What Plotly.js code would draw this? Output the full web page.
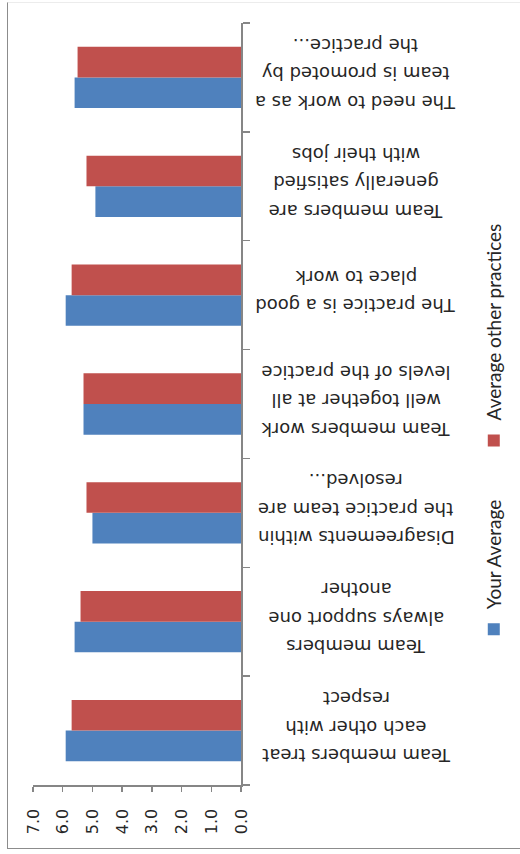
<!DOCTYPE html>
<html>
<head>
<meta charset="utf-8">
<script src="https://cdn.plot.ly/plotly-3.0.1.min.js"></script>
<style>
  html, body { margin: 0; padding: 0; background: #ffffff; overflow: hidden; }
  #wrap {
    position: absolute; left: 0; top: 0;
    width: 854px; height: 520px;
    transform-origin: 0 0;
    transform: translate(0px, 854px) rotate(-90deg);
  }
  #chart { width: 854px; height: 520px; }
  #frame {
    position: absolute; left: 7px; top: 2px; width: 620px; height: 845px;
    border-left: 1.5px solid #8c8c8c; border-bottom: 1.5px solid #8c8c8c;
    border-top: 1px solid #ececec;
    pointer-events: none; z-index: 2;
  }
</style>
</head>
<body>
<div id="wrap"><div id="chart"></div></div>
<div id="frame"></div>
<script>
// ---- data ----
const categories = [
  "Team members treat<br>each other with<br>respect",
  "Team members<br>always support one<br>another",
  "Disagreements within<br>the practice team are<br>resolved...",
  "Team members work<br>well together at all<br>levels of the practice",
  "The practice is a good<br>place to work",
  "Team members are<br>generally satisfied<br>with their jobs",
  "The need to work as a<br>team is promoted by<br>the practice..."
];
const seriesNames = ["Your Average", "Average other practices"];
const yourAverage = [5.9, 5.6, 5.0, 5.3, 5.9, 4.9, 5.6];
const otherAverage = [5.7, 5.4, 5.2, 5.3, 5.7, 5.2, 5.5];
const valueTicks = [0, 1, 2, 3, 4, 5, 6, 7];

// ---- chart ----
const axisGray = '#868686';
const textColor = '#262626';

const traces = [
  { type: 'bar', name: seriesNames[0], x: categories, y: yourAverage,
    marker: { color: '#4F81BD' }, legend: 'legend' },
  { type: 'bar', name: seriesNames[1], x: categories, y: otherAverage,
    marker: { color: '#C0504D' }, legend: 'legend2' }
];

const annotations = [];
categories.forEach(function (cat) {
  const lines = cat.split('<br>');
  const n = lines.length;
  lines.forEach(function (line, j) {
    annotations.push({
      x: cat, xref: 'x', y: -0.553, yref: 'paper',
      text: line, textangle: -90, showarrow: false,
      xanchor: 'center', yanchor: 'middle',
      xshift: (j - (n - 1) / 2) * 28.5 + 3,
      font: { family: 'DejaVu Sans', size: 18, color: textColor }
    });
  });
});

const legendStyle = {
  orientation: 'h', xanchor: 'left', y: -1.216, yanchor: 'middle',
  font: { family: 'Lato', size: 19, color: textColor },
  bgcolor: 'rgba(0,0,0,0)'
};

const layout = {
  width: 854, height: 520,
  margin: { l: 69, r: 23, t: 33, b: 279, autoexpand: false },
  barmode: 'group', bargap: 0.437, bargroupgap: 0,
  paper_bgcolor: 'rgba(0,0,0,0)', plot_bgcolor: '#ffffff',
  showlegend: true,
  legend: Object.assign({}, legendStyle, { x: 0.178 }),
  legend2: Object.assign({}, legendStyle, { x: 0.426 }),
  xaxis: {
    type: 'category', showline: true, linecolor: axisGray, linewidth: 1.5,
    ticks: 'outside', tickson: 'boundaries', ticklen: 7, tickwidth: 1.5, tickcolor: axisGray,
    showticklabels: false, showgrid: false, zeroline: false, fixedrange: true
  },
  yaxis: {
    range: [0, 7], tickvals: valueTicks, tickformat: '.1f',
    showline: true, linecolor: axisGray, linewidth: 1.5,
    ticks: 'outside', ticklen: 5, tickwidth: 1.5, tickcolor: axisGray,
    ticklabelstandoff: 14,
    tickfont: { family: 'DejaVu Sans', size: 16, color: textColor },
    showgrid: false, zeroline: false, fixedrange: true
  },
  annotations: annotations
};

Plotly.newPlot('chart', traces, layout, { staticPlot: true, displayModeBar: false });
</script>
</body>
</html>
